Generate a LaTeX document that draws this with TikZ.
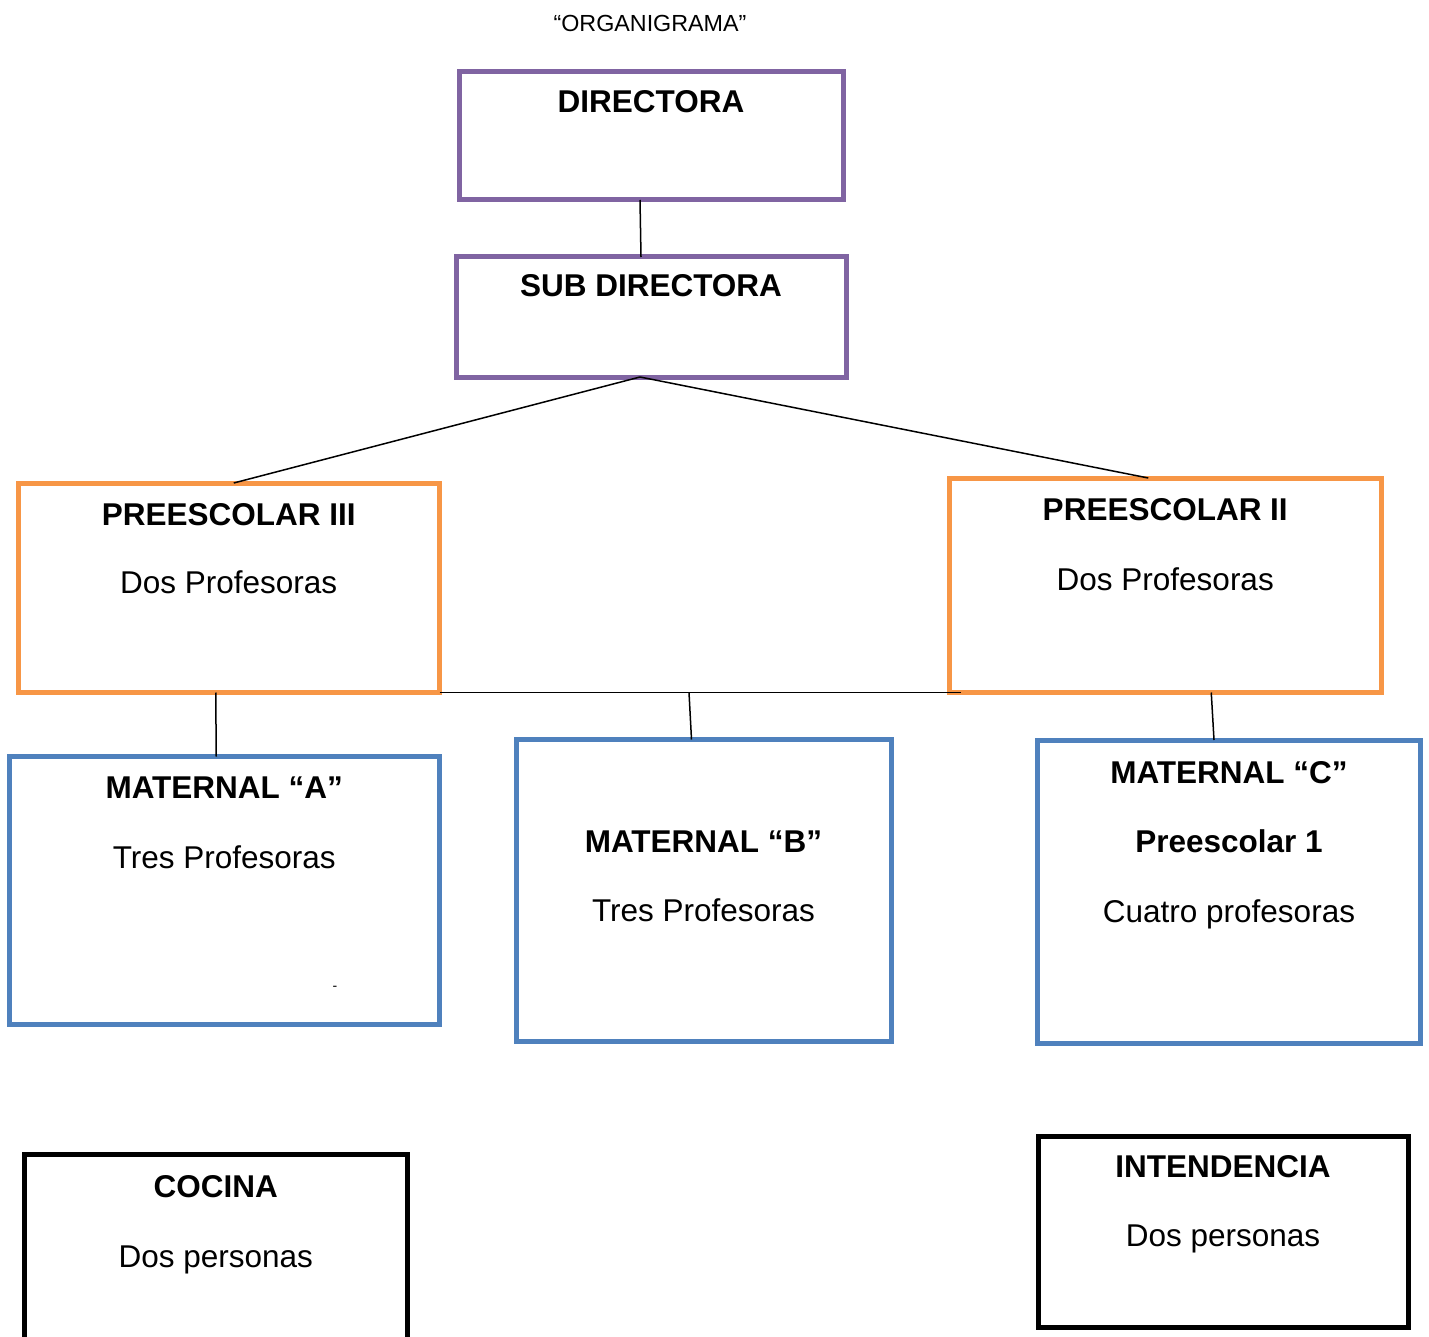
\documentclass[tikz,border=0pt]{standalone}
\usepackage{fontspec}
\setmainfont{Liberation Sans}
\usetikzlibrary{positioning}
\usetikzlibrary{calc}

\definecolor{morado}{RGB}{128,100,162}
\definecolor{naranja}{RGB}{247,150,70}
\definecolor{azul}{RGB}{79,129,189}

\tikzset{
	caja/.style={draw, line width=5pt, outer sep=0pt, inner sep=0pt},
	titulo/.style={anchor=base, font=\fontsize{31.5}{38}\selectfont\bfseries},
	texto/.style={anchor=base, font=\fontsize{31.5}{38}\selectfont},
	linea/.style={-, black, line width=1.5pt}
}

\begin{document}
\begin{tikzpicture}[x=1pt, y=-1pt]

	\useasboundingbox (0,0) rectangle (1429,1337);

	\node[anchor=base, font=\fontsize{23.3}{28}\selectfont] (org) at (650,32) {“ORGANIGRAMA”};

    \foreach \name/\cx/\cy/\w/\h/\col in { dir/651/136/384/128/morado, sub/651/317/390/120/morado,
    	p3/228.75/587.75/421.5/209.5/naranja, p2/1165.25/585.25/432.5/214.5/naranja,
    	ma/224.25/890.25/430.5/267.5/azul, mb/703.5/890.5/375/302/azul, mc/1229/891.5/382.5/303/azul,
    	coc/215.75/1267.25/383.5/225.5/black, int/1223/1231.75/370/191.5/black} {
         \node[caja, draw=\col, minimum width=\w, minimum height=\h] (\name) at (\cx,\cy) {};
    }

	\node[titulo] (dirT) at ($(dir.north)+(0,41)$) {DIRECTORA};
	\node[titulo] (subT) at ($(sub.north)+(0,40)$) {SUB DIRECTORA};

	\node[titulo] (p3T) at ($(p3.north)+(0,42)$) {PREESCOLAR III};
	\node[texto] (p3P) at ($(p3.north)+(0,110)$) {Dos Profesoras};
	\node[titulo] (p2T) at ($(p2.north)+(0,42)$) {PREESCOLAR II};
	\node[texto] (p2P) at ($(p2.north)+(0,112)$) {Dos Profesoras};

	\node[titulo] (maT) at ($(ma.north)+(0,41.5)$) {MATERNAL “A”};
	\node[texto] (maP) at ($(ma.north)+(0,111.5)$) {Tres Profesoras};
	\node[anchor=base, font=\fontsize{14}{16}\selectfont] (maD) at (335,990) {-};

	\node[titulo] (mbT) at ($(mb.north)+(0,112.5)$) {MATERNAL “B”};
	\node[texto] (mbP) at ($(mb.north)+(0,181.5)$) {Tres Profesoras};

	\node[titulo] (mcT) at ($(mc.north)+(0,43)$) {MATERNAL “C”};
	\node[titulo] (mcS) at ($(mc.north)+(0,112)$) {Preescolar 1};
	\node[texto] (mcP) at ($(mc.north)+(0,182)$) {Cuatro profesoras};

	\node[titulo] (cocT) at ($(coc.north)+(0,42.5)$) {COCINA};
	\node[texto] (cocP) at ($(coc.north)+(0,112.5)$) {Dos personas};

	\node[titulo] (intT) at ($(int.north)+(0,41)$) {INTENDENCIA};
	\node[texto] (intP) at ($(int.north)+(0,110)$) {Dos personas};

	\coordinate (bus) at ($(p2.south west)+(12,0)$);
	\coordinate (busB) at (689,692.5);

 	\draw[linea] ($(dir.south)+(-11,0)$) -- ($(sub.north)+(-10,0)$);
 	\draw[linea] ($(sub.south)+(-11,0)$) -- ($(p3.north)+(5,0)$);
 	\draw[linea] ($(sub.south)+(-11,0)$) -- ($(p2.north)+(-17,0)$);

 	\draw[linea] (p3.south east) -- (bus);
 	\draw[linea] ($(p3.south)+(-13,0)$) -- ($(ma.north)+(-8,0)$);
 	\draw[linea] (busB) -- ($(mb.north)+(-12,0)$);
 	\draw[linea] ($(p2.south)+(46,0)$) -- ($(mc.north)+(-15,0)$);

\end{tikzpicture}
\end{document}
